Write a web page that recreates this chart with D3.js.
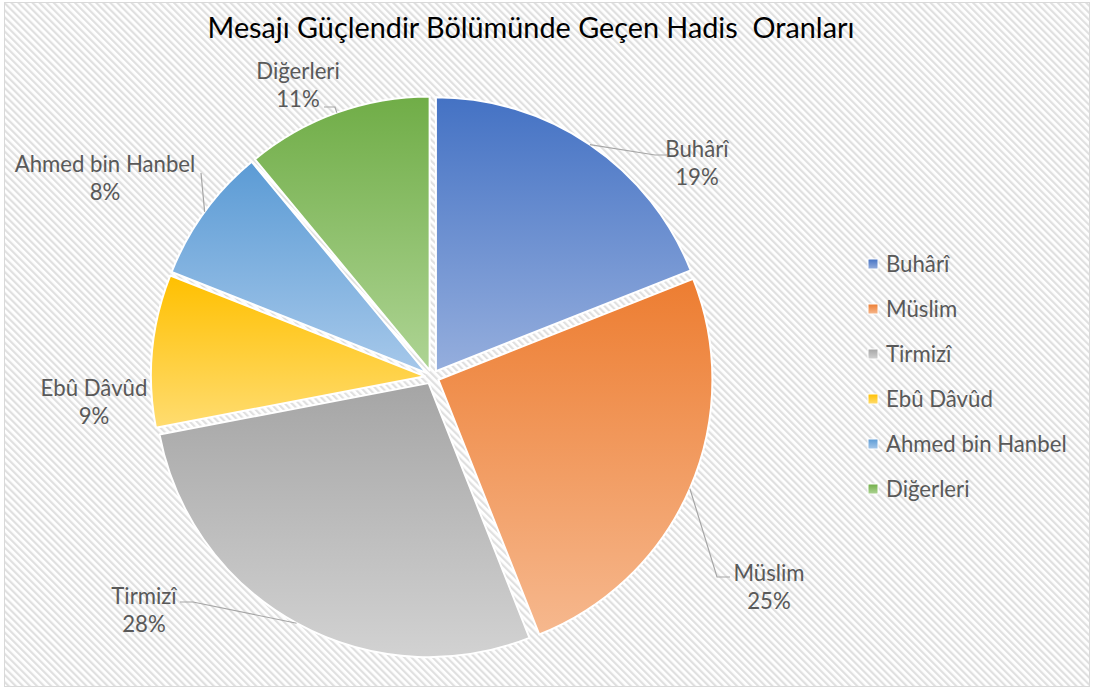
<!DOCTYPE html>
<html><head><meta charset="utf-8">
<script src="https://cdn.jsdelivr.net/npm/d3@7"></script>
<style>
body{margin:0;background:#fff}
text{font-family:Lato, "Open Sans", sans-serif}
</style>
</head><body>
<svg id="chart" width="1094" height="690"></svg>
<script>
// ---- data ----
const categories = ["Buhârî", "Müslim", "Tirmizî", "Ebû Dâvûd", "Ahmed bin Hanbel", "Diğerleri"];
const values = [19, 25, 28, 9, 8, 11];
const percentLabels = ["19%", "25%", "28%", "9%", "8%", "11%"];
const titleText = "Mesajı Güçlendir Bölümünde Geçen Hadis  Oranları";

// ---- styles ----
const colorsTop = ["#4472C4", "#ED7D31", "#A5A5A5", "#FFC000", "#5B9BD5", "#70AD47"];
const colorsBottom = ["#95AEDD", "#F6B88E", "#D2D2D2", "#FFDC70", "#A6C8EA", "#AED494"];

// ---- layout ----
const W = 1094, H = 690;
const cx = 432, cy = 377, R = 274, explode = 7;
const labelFont = 22.2;
// label placement relative to pie centre
const labelLayout = [
  {dx: 265, dy: -220, leader: [[223, -222], [235, -222]]},
  {dx: 337, dy: 204, leader: [[285, 200], [298, 200]]},
  {dx: -288, dy: 227, leader: [[-239, 225], [-252, 225]]},
  {dx: -338, dy: 19, leader: null},
  {dx: -327, dy: -205, leader: [[-231, -204]]},
  {dx: -134, dy: -298, leader: [[-97, -270], [-108, -270]]}
];

const svg = d3.select("#chart");
const defs = svg.append("defs");

const hatch = defs.append("pattern").attr("id", "hatch")
  .attr("patternUnits", "userSpaceOnUse").attr("width", 5).attr("height", 5)
  .attr("patternTransform", "rotate(-45)");
hatch.append("rect").attr("width", 5).attr("height", 5).attr("fill", "#ffffff");
hatch.append("rect").attr("width", 2.2).attr("height", 5).attr("fill", "#e0e0e0");

categories.forEach((c, i) => {
  const g = defs.append("linearGradient").attr("id", "grad" + i)
    .attr("x1", 0).attr("y1", 0).attr("x2", 0).attr("y2", 1);
  g.append("stop").attr("offset", "0%").attr("stop-color", colorsTop[i]);
  g.append("stop").attr("offset", "100%").attr("stop-color", colorsBottom[i]);
});

// background & border
svg.append("rect").attr("x", 4.5).attr("y", 2.5).attr("width", 1085).attr("height", 684)
  .attr("fill", "url(#hatch)").attr("stroke", "#d9d9d9").attr("stroke-width", 1);

// title
svg.append("text").attr("x", 531).attr("y", 38).attr("text-anchor", "middle")
  .style("white-space", "pre").attr("font-size", 28.8).attr("fill", "#000")
  .text(titleText);

// pie
const data = categories.map((c, i) => ({name: c, value: values[i], i}));
const pie = d3.pie().value(d => d.value).sort(null).startAngle(0).endAngle(2 * Math.PI);
const arcs = pie(data);
const arc = d3.arc().innerRadius(0).outerRadius(R);

const g = svg.append("g").attr("transform", `translate(${cx},${cy})`);
g.selectAll("path.slice").data(arcs).join("path").attr("class", "slice")
  .attr("transform", d => {
    const a = (d.startAngle + d.endAngle) / 2;
    return `translate(${explode * Math.sin(a)},${-explode * Math.cos(a)})`;
  })
  .attr("d", arc)
  .attr("fill", d => `url(#grad${d.data.i})`)
  .attr("stroke", "#fff").attr("stroke-width", 2).attr("stroke-linejoin", "round");

// leader lines
arcs.forEach((d, k) => {
  const L = labelLayout[k];
  if (!L.leader) return;
  const a = (d.startAngle + d.endAngle) / 2;
  const rr = R + explode;
  const pts = [[rr * Math.sin(a), -rr * Math.cos(a)], ...L.leader];
  g.append("path").attr("d", d3.line()(pts)).attr("fill", "none")
    .attr("stroke", "#a6a6a6").attr("stroke-width", 1.2);
});

// labels
arcs.forEach((d, k) => {
  const L = labelLayout[k];
  const t = g.append("text").attr("text-anchor", "middle").attr("font-size", labelFont).attr("fill", "#595959");
  t.append("tspan").attr("x", L.dx).attr("y", L.dy).text(d.data.name);
  t.append("tspan").attr("x", L.dx).attr("y", L.dy + 28).text(percentLabels[k]);
});

// legend
const legend = svg.append("g").attr("transform", "translate(868,259)");
const li = legend.selectAll("g").data(categories).join("g")
  .attr("transform", (d, i) => `translate(0,${i * 45})`);
li.append("rect").attr("width", 10).attr("height", 10)
  .attr("fill", (d, i) => `url(#grad${i})`).attr("stroke", "#fff").attr("stroke-width", 1);
li.append("text").attr("x", 18).attr("y", 13).attr("font-size", labelFont).attr("fill", "#595959").text(d => d);
</script>
</body></html>
